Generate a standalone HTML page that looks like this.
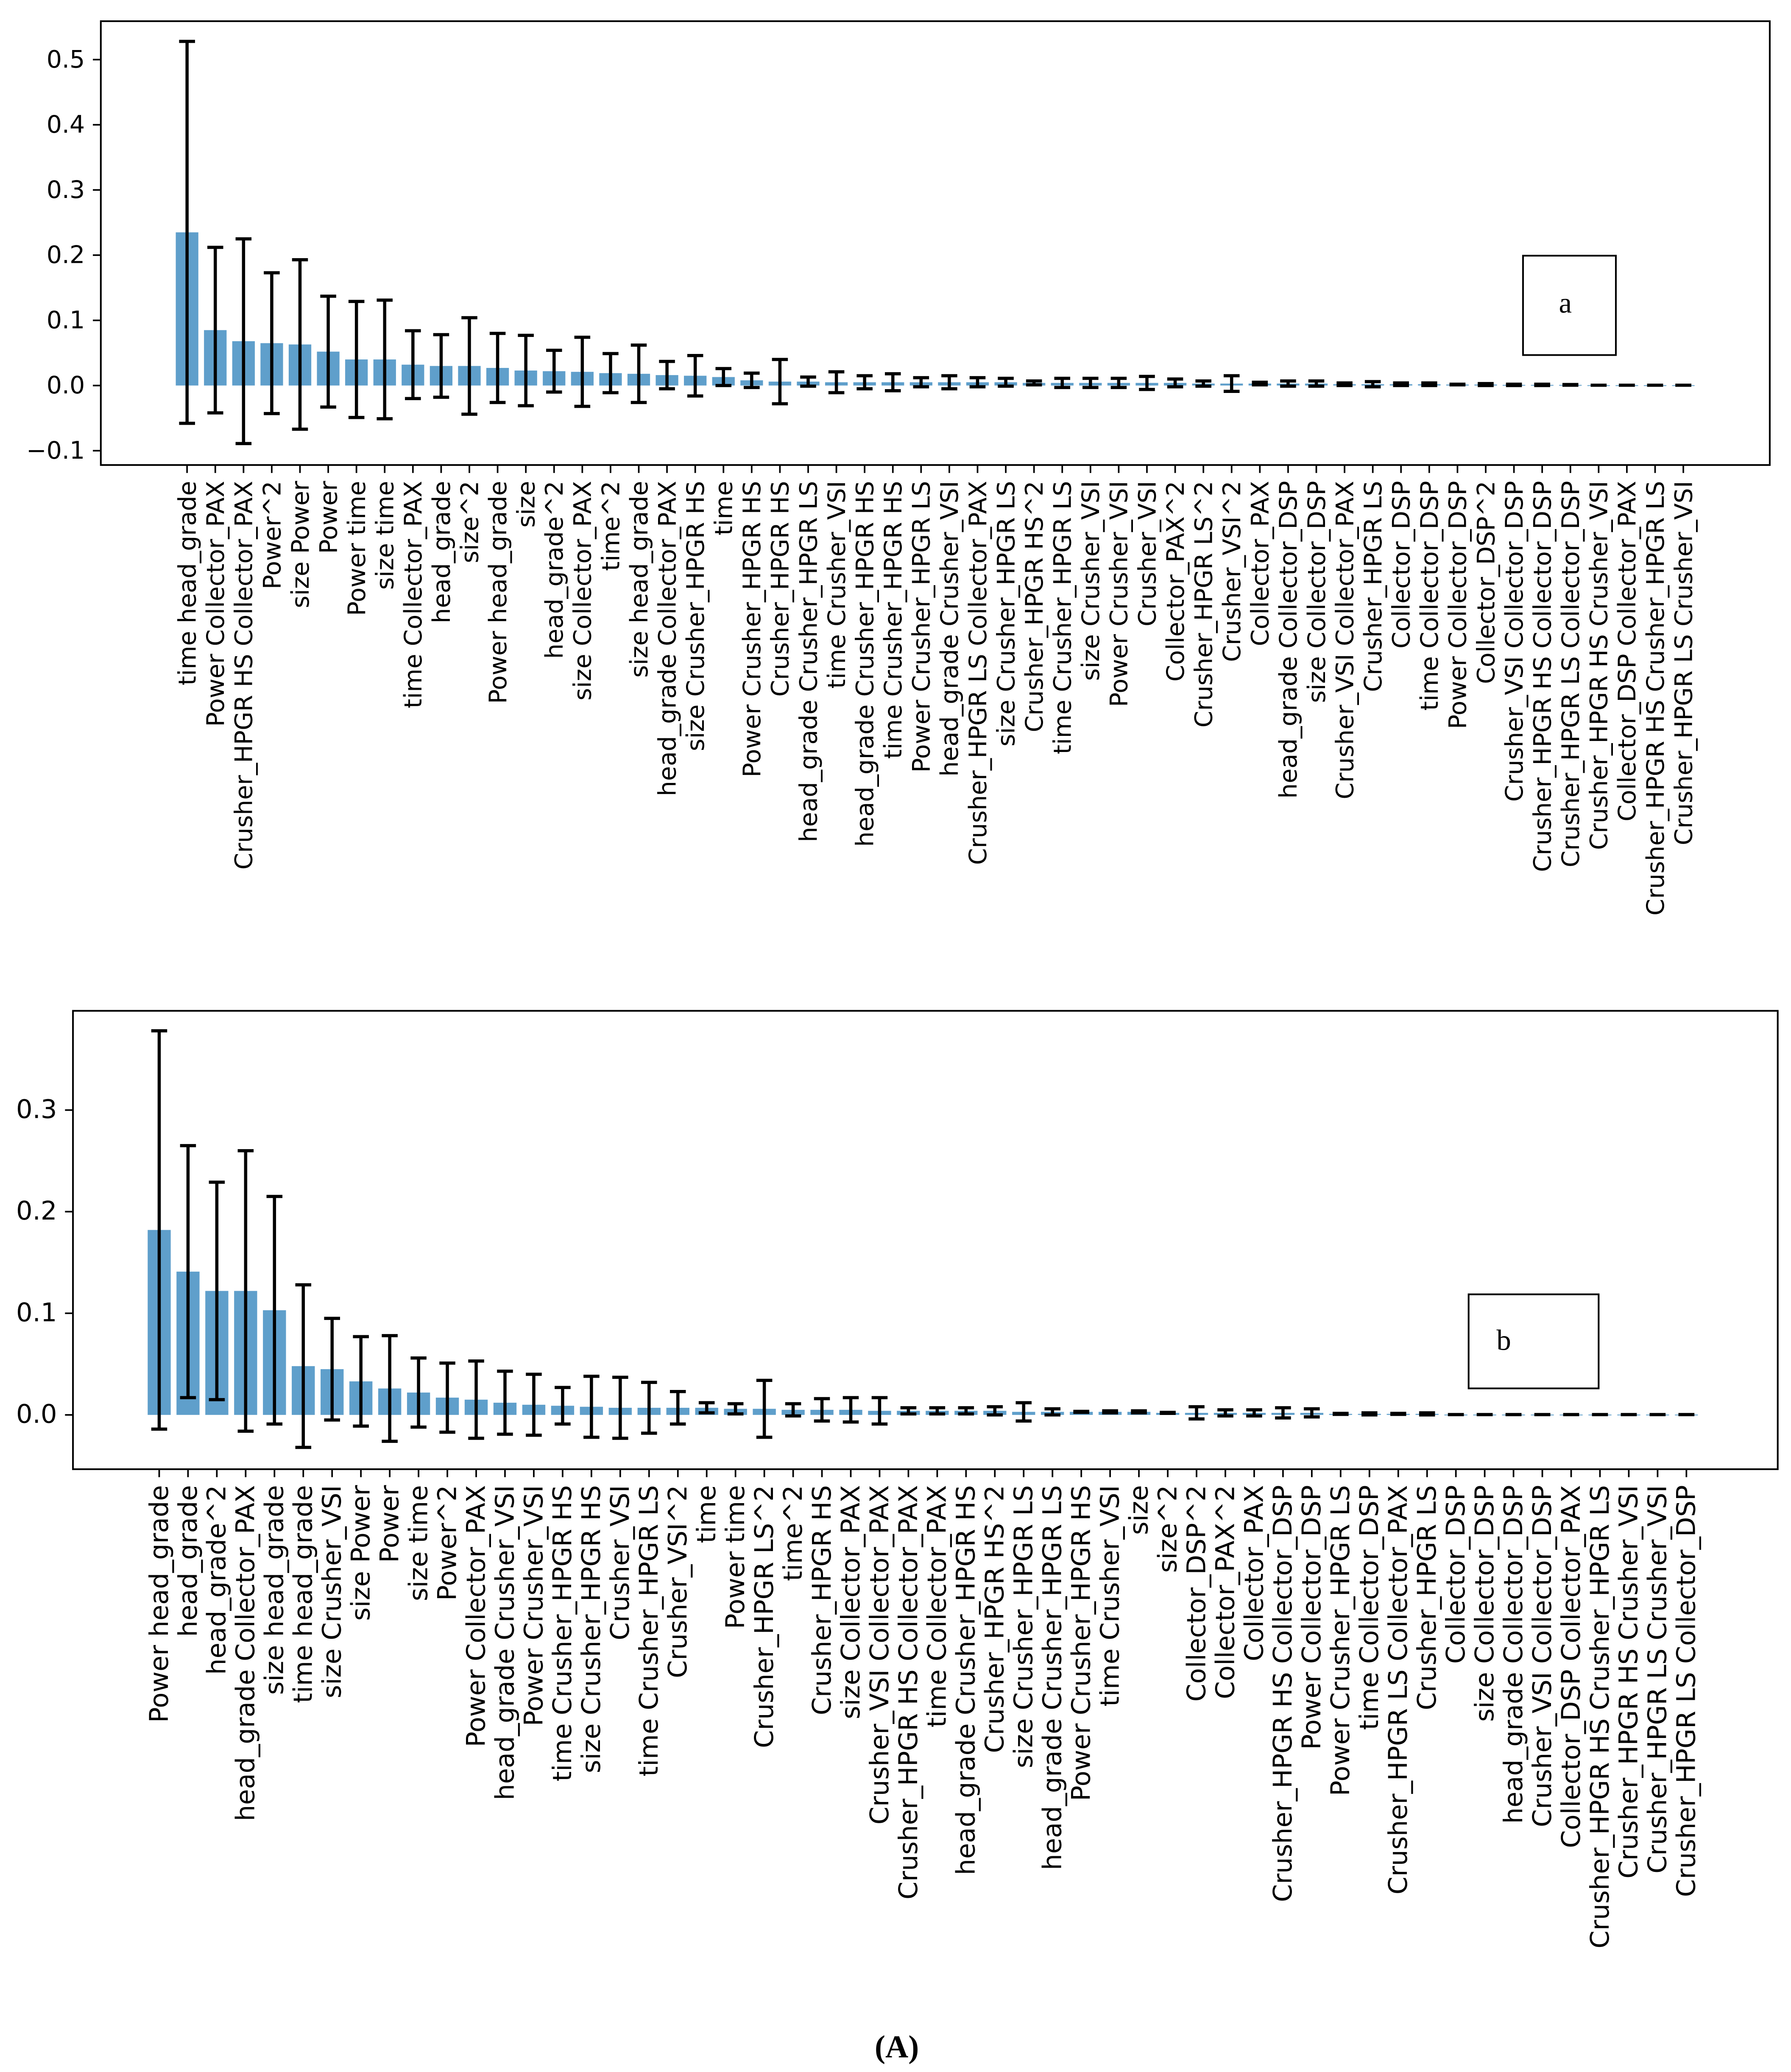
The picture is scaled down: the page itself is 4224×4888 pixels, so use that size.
<!DOCTYPE html>
<html><head><meta charset="utf-8"><style>
html,body{margin:0;padding:0;background:#fff;}
svg{display:block;}
text{font-family:"DejaVu Sans","Liberation Sans",sans-serif;fill:#000;}
</style></head><body>
<svg id="fig" width="4224" height="4888" viewBox="0 0 1350 1564" preserveAspectRatio="none" xmlns="http://www.w3.org/2000/svg">
<rect x="0" y="0" width="1350" height="1564" fill="#fff"/>
<g id="chartA"></g>
<g id="chartB"></g>
<g><rect x="1148" y="193" width="70" height="75" fill="#fff" stroke="#000" stroke-width="1.3"/><text x="1175" y="236" style="font-family:'Liberation Serif',serif;font-size:22px">a</text></g>
<g><rect x="1107" y="977" width="98" height="71" fill="#fff" stroke="#000" stroke-width="1.3"/><text x="1128" y="1019" style="font-family:'Liberation Serif',serif;font-size:22px">b</text></g>
<text x="676" y="1553" text-anchor="middle" style="font-family:'Liberation Serif',serif;font-size:24px;font-weight:bold">(A)</text>
</svg>
<script>
const catsA = ["time head_grade","Power Collector_PAX","Crusher_HPGR HS Collector_PAX","Power^2","size Power","Power","Power time","size time","time Collector_PAX","head_grade","size^2","Power head_grade","size","head_grade^2","size Collector_PAX","time^2","size head_grade","head_grade Collector_PAX","size Crusher_HPGR HS","time","Power Crusher_HPGR HS","Crusher_HPGR HS","head_grade Crusher_HPGR LS","time Crusher_VSI","head_grade Crusher_HPGR HS","time Crusher_HPGR HS","Power Crusher_HPGR LS","head_grade Crusher_VSI","Crusher_HPGR LS Collector_PAX","size Crusher_HPGR LS","Crusher_HPGR HS^2","time Crusher_HPGR LS","size Crusher_VSI","Power Crusher_VSI","Crusher_VSI","Collector_PAX^2","Crusher_HPGR LS^2","Crusher_VSI^2","Collector_PAX","head_grade Collector_DSP","size Collector_DSP","Crusher_VSI Collector_PAX","Crusher_HPGR LS","Collector_DSP","time Collector_DSP","Power Collector_DSP","Collector_DSP^2","Crusher_VSI Collector_DSP","Crusher_HPGR HS Collector_DSP","Crusher_HPGR LS Collector_DSP","Crusher_HPGR HS Crusher_VSI","Collector_DSP Collector_PAX","Crusher_HPGR HS Crusher_HPGR LS","Crusher_HPGR LS Crusher_VSI"];
const valsA = [0.235,0.085,0.068,0.065,0.063,0.052,0.040,0.040,0.032,0.030,0.030,0.027,0.023,0.022,0.021,0.019,0.018,0.016,0.015,0.013,0.008,0.006,0.006,0.005,0.005,0.005,0.005,0.005,0.005,0.005,0.004,0.004,0.004,0.004,0.004,0.004,0.003,0.003,0.003,0.003,0.003,0.002,0.002,0.002,0.002,0.0015,0.0015,0.001,0.001,0.001,0.0005,0.0005,0.0005,0.0005];
const errA = [0.293,0.127,0.157,0.108,0.13,0.085,0.089,0.091,0.052,0.048,0.074,0.053,0.054,0.032,0.053,0.030,0.044,0.021,0.031,0.013,0.011,0.034,0.007,0.016,0.010,0.013,0.007,0.010,0.007,0.006,0.003,0.007,0.007,0.007,0.010,0.006,0.004,0.012,0.002,0.004,0.004,0.002,0.004,0.002,0.002,0.0005,0.0015,0.001,0.001,0.0005,0,0,0,0];
const ticksA = [-0.1,0.0,0.1,0.2,0.3,0.4,0.5];

const catsB = ["Power head_grade","head_grade","head_grade^2","head_grade Collector_PAX","size head_grade","time head_grade","size Crusher_VSI","size Power","Power","size time","Power^2","Power Collector_PAX","head_grade Crusher_VSI","Power Crusher_VSI","time Crusher_HPGR HS","size Crusher_HPGR HS","Crusher_VSI","time Crusher_HPGR LS","Crusher_VSI^2","time","Power time","Crusher_HPGR LS^2","time^2","Crusher_HPGR HS","size Collector_PAX","Crusher_VSI Collector_PAX","Crusher_HPGR HS Collector_PAX","time Collector_PAX","head_grade Crusher_HPGR HS","Crusher_HPGR HS^2","size Crusher_HPGR LS","head_grade Crusher_HPGR LS","Power Crusher_HPGR HS","time Crusher_VSI","size","size^2","Collector_DSP^2","Collector_PAX^2","Collector_PAX","Crusher_HPGR HS Collector_DSP","Power Collector_DSP","Power Crusher_HPGR LS","time Collector_DSP","Crusher_HPGR LS Collector_PAX","Crusher_HPGR LS","Collector_DSP","size Collector_DSP","head_grade Collector_DSP","Crusher_VSI Collector_DSP","Collector_DSP Collector_PAX","Crusher_HPGR HS Crusher_HPGR LS","Crusher_HPGR HS Crusher_VSI","Crusher_HPGR LS Crusher_VSI","Crusher_HPGR LS Collector_DSP"];
const valsB = [0.182,0.141,0.122,0.122,0.103,0.048,0.045,0.033,0.026,0.022,0.017,0.015,0.012,0.010,0.009,0.008,0.007,0.007,0.007,0.007,0.006,0.006,0.005,0.005,0.005,0.004,0.004,0.004,0.004,0.004,0.003,0.003,0.003,0.003,0.003,0.002,0.002,0.002,0.002,0.002,0.002,0.001,0.001,0.001,0.001,0.0003,0.0003,0.0003,0.0003,0.0003,0.0003,0.0003,0.0003,0.0003];
const errB = [0.196,0.124,0.107,0.138,0.112,0.080,0.050,0.044,0.052,0.034,0.034,0.038,0.031,0.030,0.018,0.030,0.030,0.025,0.016,0.005,0.005,0.028,0.006,0.011,0.012,0.013,0.003,0.003,0.003,0.004,0.009,0.003,0.0005,0.001,0.001,0.0005,0.006,0.003,0.003,0.005,0.004,0.0005,0.001,0.0005,0.001,0,0,0,0,0,0,0,0,0];
const ticksB = [0.0,0.1,0.2,0.3];

const NS = "http://www.w3.org/2000/svg";
function mk(parent, tag, attrs){const e=document.createElementNS(NS,tag);for(const k in attrs)e.setAttribute(k,attrs[k]);parent.appendChild(e);return e;}

function drawChart(g, cats, vals, errs, ticks, box, y0px, pxPer01, x0, dx, fs){
  const yScale = v => y0px - v/0.1*pxPer01;
  const xScale = i => x0 + i*dx;
  const bw = dx*0.8;
  ticks.forEach(t=>{
    const y=yScale(t);
    const tl=mk(g,'line',{x1:box.x-6,x2:box.x,y1:y,y2:y,stroke:'#000','stroke-width':1.2});
    
    
    const tx=mk(g,'text',{x:box.x-12,y:y+6,'text-anchor':'end','font-size':fs+'px'});
    tx.textContent=(t<0?'\u2212':'')+Math.abs(t).toFixed(1);
    
    
  });
  cats.forEach((c,i)=>{
    const x=xScale(i), v=vals[i], e=errs[i];
    const r=mk(g,'rect',{x:x-bw/2,y:Math.min(yScale(v),y0px),width:bw,height:Math.max(Math.abs(yScale(v)-y0px),0.6),fill:'#5f9fcb'});
    
    
    const eg=mk(g,'g',{stroke:'#000','stroke-width':2.4});
    
    
    const yt=yScale(v+e), yb=yScale(v-e);
    mk(eg,'line',{x1:x,x2:x,y1:yt,y2:yb});
    mk(eg,'line',{x1:x-6,x2:x+6,y1:yt,y2:yt});
    mk(eg,'line',{x1:x-6,x2:x+6,y1:yb,y2:yb});
    const tk=mk(g,'line',{x1:x,x2:x,y1:box.y+box.h,y2:box.y+box.h+6,stroke:'#000','stroke-width':1.2});
    
    
    const lt=mk(g,'text',{transform:`translate(${x+6.5},${box.y+box.h+12}) rotate(-90)`,'text-anchor':'end','font-size':fs+'px'});
    lt.textContent=c;
    
    
  });
  const fr=mk(g,'rect',{x:box.x,y:box.y,width:box.w,height:box.h,fill:'none',stroke:'#000','stroke-width':1.3});
  
  
}
drawChart(document.getElementById('chartA'),catsA,valsA,errA,ticksA,{x:76,y:16,w:1258,h:335},291,49.2,141,21.28,18.2);
drawChart(document.getElementById('chartB'),catsB,valsB,errB,ticksB,{x:55,y:763,w:1285,h:346},1068,76.7,120,21.72,19.4);
</script>
</body></html>
